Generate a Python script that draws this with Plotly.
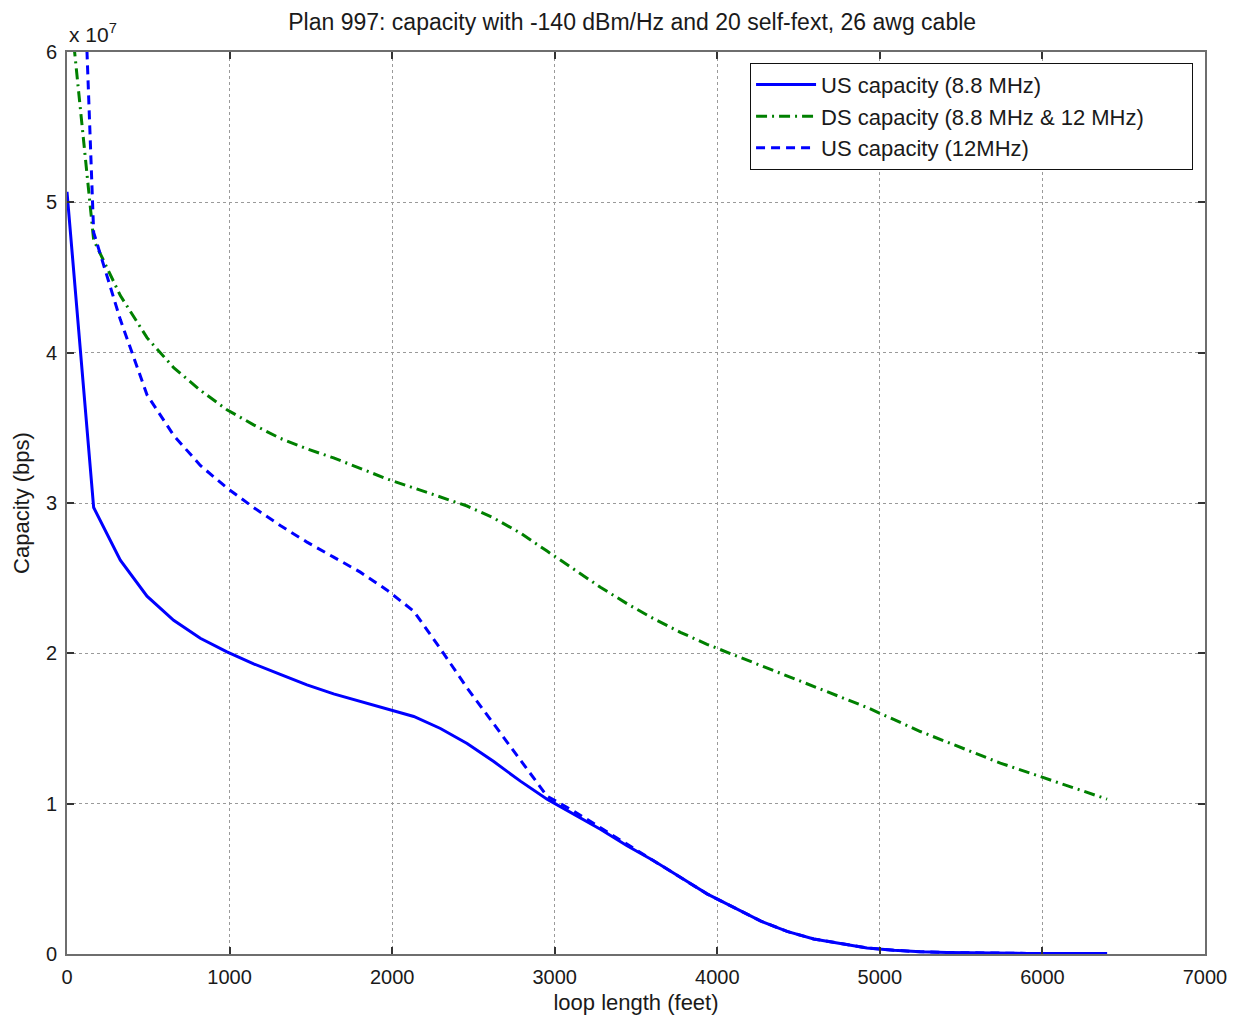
import plotly.graph_objects as go

# loop length in feet (50 m steps)
loop_ft = [0, 164, 328, 492, 656, 820, 984, 1148, 1312, 1476, 1640, 1804, 1969, 2133,
           2297, 2461, 2625, 2789, 2953, 3117, 3281, 3445, 3609, 3773, 3937, 4101, 4265,
           4429, 4593, 4757, 4921, 5085, 5249, 5413, 5577, 5741, 5906, 6070, 6234, 6398]

# capacities in units of 1e7 bps
us_88 = [5.07, 2.97, 2.62, 2.38, 2.22, 2.10, 2.01, 1.93, 1.86, 1.79, 1.73, 1.68, 1.63, 1.58,
         1.50, 1.40, 1.28, 1.15, 1.03, 0.93, 0.83, 0.72, 0.62, 0.51, 0.40, 0.31, 0.22,
         0.15, 0.10, 0.07, 0.04, 0.025, 0.015, 0.010, 0.007, 0.005, 0.004, 0.003, 0.003, 0.003]

ds_cap = [6.5, 4.75, 4.38, 4.10, 3.90, 3.75, 3.62, 3.52, 3.43, 3.36, 3.30, 3.23, 3.16, 3.10,
          3.04, 2.98, 2.90, 2.80, 2.68, 2.56, 2.44, 2.33, 2.23, 2.14, 2.06, 1.99, 1.92,
          1.85, 1.78, 1.71, 1.64, 1.56, 1.48, 1.41, 1.34, 1.27, 1.21, 1.15, 1.09, 1.03]

us_12 = [9.6, 4.8, 4.22, 3.72, 3.45, 3.25, 3.10, 2.97, 2.85, 2.74, 2.64, 2.54, 2.42, 2.28,
         2.03, 1.77, 1.53, 1.29, 1.05, 0.95, 0.84, 0.73, 0.62, 0.51, 0.40, 0.31, 0.22,
         0.15, 0.10, 0.07, 0.04, 0.025, 0.015, 0.010, 0.007, 0.005, 0.004, 0.003, 0.003, 0.003]

series_names = ["US capacity (8.8 MHz)", "DS capacity (8.8 MHz & 12 MHz)", "US capacity (12MHz)"]

x_ticks = [0, 1000, 2000, 3000, 4000, 5000, 6000, 7000]
y_ticks = [0, 1, 2, 3, 4, 5, 6]

font = "Liberation Sans, Arial, sans-serif"
txt = "#1a1a1a"
pad = "\u00a0" * 7

fig = go.Figure()
fig.add_trace(go.Scatter(x=loop_ft, y=us_88, mode="lines", name=series_names[0] + pad,
                         line=dict(color="#0000FF", width=3)))
fig.add_trace(go.Scatter(x=loop_ft, y=ds_cap, mode="lines", name=series_names[1] + pad,
                         line=dict(color="#008000", width=3, dash="11px,5px,2px,5px")))
fig.add_trace(go.Scatter(x=loop_ft, y=us_12, mode="lines", name=series_names[2] + pad,
                         line=dict(color="#0000FF", width=3, dash="9px,6px")))

axis_common = dict(showline=True, linecolor="#6e6e6e", linewidth=2, mirror="ticks",
                   ticks="inside", ticklen=7, tickcolor="#333333", tickwidth=1.5,
                   showgrid=True, gridcolor="#9a9a9a", griddash="dot", gridwidth=1,
                   zeroline=False, tickfont=dict(size=20, color=txt, family=font),
                   ticklabelstandoff=4)

fig.update_xaxes(range=[0, 7000], tickvals=x_ticks, ticktext=[str(v) for v in x_ticks],
                 title=dict(text="loop length (feet)", font=dict(size=22, color=txt, family=font),
                            standoff=8), **axis_common)
fig.update_yaxes(range=[0, 6], tickvals=y_ticks, ticktext=[str(v) for v in y_ticks],
                 title=dict(text="Capacity (bps)", font=dict(size=22, color=txt, family=font),
                            standoff=10), **axis_common)

fig.add_annotation(text="x 10<sup>7</sup>", xref="paper", yref="paper", x=0.0, y=1.004,
                   xanchor="left", yanchor="bottom", showarrow=False,
                   font=dict(size=21, color=txt, family=font))

fig.update_layout(
    width=1236, height=1022,
    margin=dict(l=56, r=39, t=44, b=76),
    paper_bgcolor="white", plot_bgcolor="white",
    title=dict(text="Plan 997: capacity with -140 dBm/Hz and 20 self-fext, 26 awg cable",
               x=0.505, xanchor="center", y=0.986, yanchor="middle",
               font=dict(size=23, color=txt, family=font)),
    legend=dict(x=0.9895, y=0.988, xanchor="right", yanchor="top",
                bgcolor="white", bordercolor="#111111", borderwidth=1,
                font=dict(size=22, color=txt, family=font),
                tracegroupgap=0, itemwidth=60),
    showlegend=True,
)

fig.write_html("out.html")
